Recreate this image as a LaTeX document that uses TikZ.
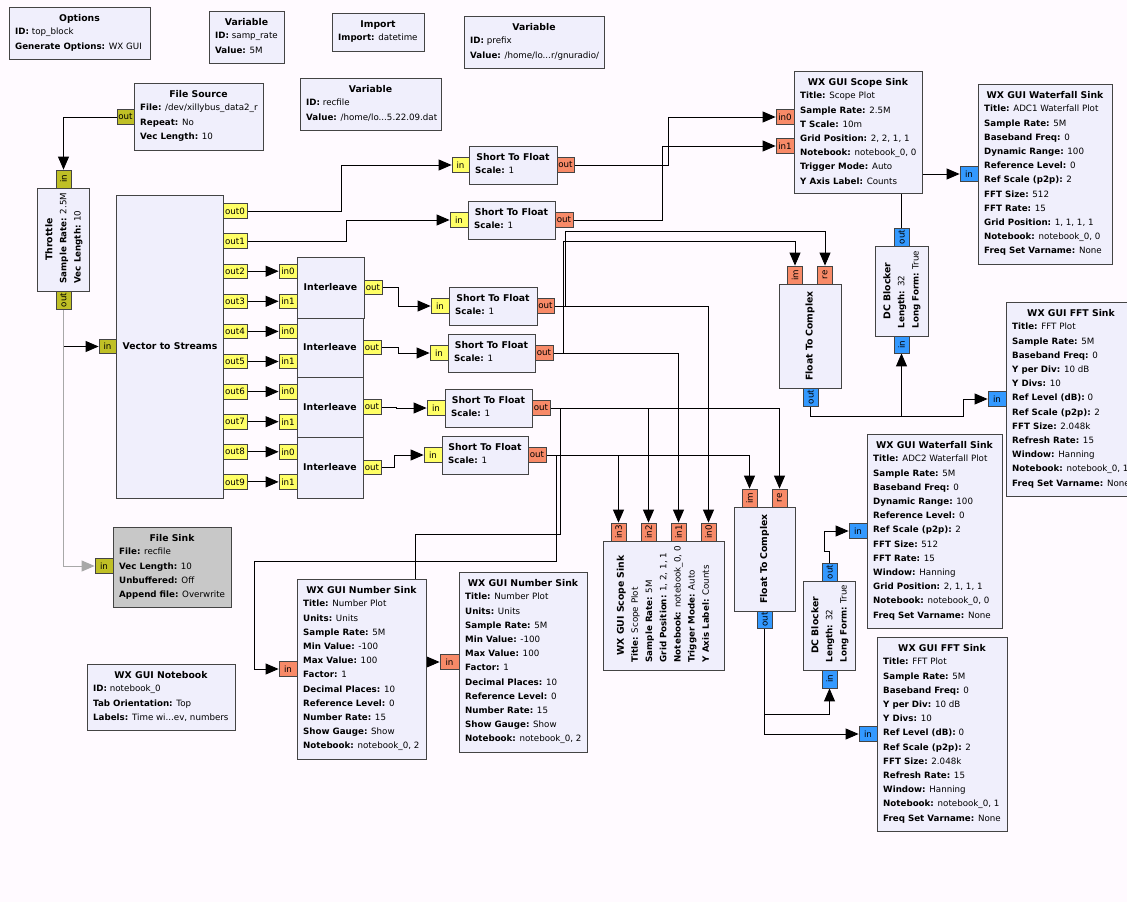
\documentclass[tikz,border=0pt]{standalone}
\usepackage{fontspec}
\setmainfont{DejaVu Sans}
\usepackage{graphicx}
\usetikzlibrary{arrows.meta}
\pgfdeclarelayer{bg}
\pgfdeclarelayer{conns}
\pgfsetlayers{bg,conns,main}
\definecolor{bgc}{HTML}{FFFAFF}
\definecolor{blkfill}{HTML}{F0EFFC}
\definecolor{bord}{HTML}{444444}
\definecolor{sinkgray}{HTML}{C8C8C8}
\definecolor{pyel}{HTML}{FFFF66}
\definecolor{psal}{HTML}{F88A68}
\definecolor{pblu}{HTML}{3399FF}
\definecolor{poli}{HTML}{BFBF26}
\definecolor{gline}{HTML}{A8A8A8}
\tikzset{
  blk/.style={draw=bord, fill=blkfill, line width=1.1pt, inner sep=0pt, anchor=north west},
  ttl/.style={font=\fontsize{9.3}{11}\selectfont\bfseries, inner sep=0pt},
  prm/.style={font=\fontsize{8.7}{10}\selectfont, inner sep=0pt},
  hp/.style={draw=bord, line width=0.8pt, inner sep=0pt, minimum height=14.6pt, font=\fontsize{8.7}{10}\selectfont},
  vp/.style={draw=bord, line width=0.8pt, inner sep=0pt, minimum width=15pt, font=\fontsize{8.7}{10}\selectfont},
  conn/.style={draw=black, line width=0.9pt, -{Triangle[length=13pt,width=11pt]}},
  gconn/.style={draw=gline, line width=0.9pt, -{Triangle[length=13pt,width=11pt]}},
}
\newcommand\kk[1]{\textbf{#1}}
\newcommand\ddd{.\kern0pt.\kern0pt.}
% horizontal block: [fill]{name}{x1}{y1}{x2}{y2}{title}{params}
\newcommand\hblk[8][blkfill]{%
  \node[blk, fill=#1, minimum width={#5-#3}, minimum height={#6-#4}] (#2) at (#3,#4) {};
  \node[ttl, anchor=base] (#2-t) at ({(#3+#5)/2},{#4+14.1}) {#7};
  \foreach \plx [count=\pn from 0] in {#8} {\node[prm, anchor=base west] (#2-p\pn) at ({#3+6},{#4+27.9+14.2*\pn}) {\plx};}%
}
% rotated block: [fill]{name}{x1}{y1}{x2}{y2}{title x}{title}{params}
\newcommand\rblk[9][blkfill]{%
  \node[blk, fill=#1, minimum width={#5-#3}, minimum height={#6-#4}] (#2) at (#3,#4) {};
  \node[ttl, rotate=90, anchor=base] (#2-t) at ({#7+3.4},{(#4+#6)/2}) {#8};
  \foreach \plx [count=\pn from 1] in {#9} {\node[prm, rotate=90, anchor=base west] (#2-p\pn) at ({#7+3.2+14.2*\pn},{#6-7.5}) {\plx};}%
}
% horizontal port: {name}{colour}{x1}{x2}{yc}{label}
\newcommand\hport[6]{\node[hp, fill=#2, minimum width={#4-#3}] (#1) at ({(#3+#4)/2},{#5}) {#6};}
% vertical port: {name}{colour}{xc}{y1}{y2}{label}
\newcommand\vport[6]{\node[vp, fill=#2, minimum height={#5-#4}] (#1) at ({#3},{(#4+#5)/2}) {\rotatebox{90}{#6}};}
\begin{document}
\begin{tikzpicture}[x=1pt,y=-1pt]
\useasboundingbox (0,0) rectangle (1127,902);
\begin{pgfonlayer}{bg}
\fill[bgc] (0,0) rectangle (1127,902);
\end{pgfonlayer}

% ---------- top row ----------
\hblk{opt}{9}{7}{150}{59}{Options}{{\kk{ID:} top\_block},{\kk{Generate Options:} WX GUI}}
\hblk{vsr}{209}{11}{284}{63}{Variable}{{\kk{ID:} samp\_rate},{\kk{Value:} 5M}}
\hblk{imp}{332}{13}{424}{51}{Import}{{\kk{Import:} datetime}}
\hblk{vpf}{464}{16}{604}{68}{Variable}{{\kk{ID:} prefix},{\kk{Value:} /home/lo\ddd r/gnuradio/}}
\hblk{fsrc}{134}{83}{263}{150}{File Source}{{\kk{File:} /dev/xillybus\_data2\_r},{\kk{Repeat:} No},{\kk{Vec Length:} 10}}
\hblk{vrf}{300}{78}{441}{130}{Variable}{{\kk{ID:} recfile},{\kk{Value:} /home/lo\ddd 5.22.09.dat}}

% ---------- left chain ----------
\rblk{thr}{37}{188}{89}{291}{49}{Throttle}{{\kk{Sample Rate:} 2.5M},{\kk{Vec Length:} 10}}
\node[blk, minimum width=107, minimum height=303] (vts) at (116,195) {};
\node[ttl] (vts-t) at (170,346.5) {Vector to Streams};
\node[blk, minimum width=67, minimum height=61] (il1) at (297,257) {};
\node[ttl] (il1-t) at (330.5,287.5) {Interleave};
\node[blk, minimum width=66, minimum height=59] (il2) at (297,318) {};
\node[ttl] (il2-t) at (330,347.5) {Interleave};
\node[blk, minimum width=66, minimum height=60] (il3) at (297,377) {};
\node[ttl] (il3-t) at (330,407) {Interleave};
\node[blk, minimum width=66, minimum height=61] (il4) at (297,437) {};
\node[ttl] (il4-t) at (330,467.5) {Interleave};

\hblk{stf1}{469}{146}{557}{184}{Short To Float}{{\kk{Scale:} 1}}
\hblk{stf2}{468}{201}{555}{239}{Short To Float}{{\kk{Scale:} 1}}
\hblk{stf3}{449}{287}{537}{325}{Short To Float}{{\kk{Scale:} 1}}
\hblk{stf4}{448}{334}{535}{372}{Short To Float}{{\kk{Scale:} 1}}
\hblk{stf5}{445}{389}{532}{427}{Short To Float}{{\kk{Scale:} 1}}
\hblk{stf6}{442}{436}{528}{474}{Short To Float}{{\kk{Scale:} 1}}

% ---------- right side ----------
\hblk{sc1}{794}{71}{922}{193}{WX GUI Scope Sink}{{\kk{Title:} Scope Plot},{\kk{Sample Rate:} 2.5M},{\kk{T Scale:} 10m},{\kk{Grid Position:} 2, 2, 1, 1},{\kk{Notebook:} notebook\_0, 0},{\kk{Trigger Mode:} Auto},{\kk{Y Axis Label:} Counts}}
\hblk{wf1}{978}{84}{1112}{264}{WX GUI Waterfall Sink}{{\kk{Title:} ADC1 Waterfall Plot},{\kk{Sample Rate:} 5M},{\kk{Baseband Freq:} 0},{\kk{Dynamic Range:} 100},{\kk{Reference Level:} 0},{\kk{Ref Scale (p2p):} 2},{\kk{FFT Size:} 512},{\kk{FFT Rate:} 15},{\kk{Grid Position:} 1, 1, 1, 1},{\kk{Notebook:} notebook\_0, 0},{\kk{Freq Set Varname:} None}}
\rblk{dc1}{875}{246}{928}{336}{887}{DC Blocker}{{\kk{Length:} 32},{\kk{Long Form:} True}}
\node[blk, minimum width=62, minimum height=104] (ftc1) at (779,284) {};
\node[ttl, rotate=90] (ftc1-t) at (810,336) {Float To Complex};
\hblk{fft1}{1006}{302}{1136}{496}{WX GUI FFT Sink}{{\kk{Title:} FFT Plot},{\kk{Sample Rate:} 5M},{\kk{Baseband Freq:} 0},{\kk{Y per Div:} 10 dB},{\kk{Y Divs:} 10},{\kk{Ref Level (dB):} 0},{\kk{Ref Scale (p2p):} 2},{\kk{FFT Size:} 2.048k},{\kk{Refresh Rate:} 15},{\kk{Window:} Hanning},{\kk{Notebook:} notebook\_0, 1},{\kk{Freq Set Varname:} None}}
\hblk{wf2}{867}{434}{1002}{628}{WX GUI Waterfall Sink}{{\kk{Title:} ADC2 Waterfall Plot},{\kk{Sample Rate:} 5M},{\kk{Baseband Freq:} 0},{\kk{Dynamic Range:} 100},{\kk{Reference Level:} 0},{\kk{Ref Scale (p2p):} 2},{\kk{FFT Size:} 512},{\kk{FFT Rate:} 15},{\kk{Window:} Hanning},{\kk{Grid Position:} 2, 1, 1, 1},{\kk{Notebook:} notebook\_0, 0},{\kk{Freq Set Varname:} None}}
\node[blk, minimum width=61, minimum height=104] (ftc2) at (734,507) {};
\node[ttl, rotate=90] (ftc2-t) at (764.5,559) {Float To Complex};
\rblk{dc2}{803}{581}{855}{670}{815}{DC Blocker}{{\kk{Length:} 32},{\kk{Long Form:} True}}
\hblk{fft2}{877}{637}{1007}{831}{WX GUI FFT Sink}{{\kk{Title:} FFT Plot},{\kk{Sample Rate:} 5M},{\kk{Baseband Freq:} 0},{\kk{Y per Div:} 10 dB},{\kk{Y Divs:} 10},{\kk{Ref Level (dB):} 0},{\kk{Ref Scale (p2p):} 2},{\kk{FFT Size:} 2.048k},{\kk{Refresh Rate:} 15},{\kk{Window:} Hanning},{\kk{Notebook:} notebook\_0, 1},{\kk{Freq Set Varname:} None}}
\rblk{sc2}{603}{541}{724}{670}{620.5}{WX GUI Scope Sink}{{\kk{Title:} Scope Plot},{\kk{Sample Rate:} 5M},{\kk{Grid Position:} 1, 2, 1, 1},{\kk{Notebook:} notebook\_0, 0},{\kk{Trigger Mode:} Auto},{\kk{Y Axis Label:} Counts}}

% ---------- bottom left ----------
\hblk[sinkgray]{fsk}{113}{527}{231}{607}{File Sink}{{\kk{File:} recfile},{\kk{Vec Length:} 10},{\kk{Unbuffered:} Off},{\kk{Append file:} Overwrite}}
\hblk{nbk}{87}{664}{235}{730}{WX GUI Notebook}{{\kk{ID:} notebook\_0},{\kk{Tab Orientation:} Top},{\kk{Labels:} Time wi\ddd ev, numbers}}
\hblk{ns1}{297}{579}{426}{759}{WX GUI Number Sink}{{\kk{Title:} Number Plot},{\kk{Units:} Units},{\kk{Sample Rate:} 5M},{\kk{Min Value:} -100},{\kk{Max Value:} 100},{\kk{Factor:} 1},{\kk{Decimal Places:} 10},{\kk{Reference Level:} 0},{\kk{Number Rate:} 15},{\kk{Show Gauge:} Show},{\kk{Notebook:} notebook\_0, 2}}
\hblk{ns2}{459}{572}{587}{752}{WX GUI Number Sink}{{\kk{Title:} Number Plot},{\kk{Units:} Units},{\kk{Sample Rate:} 5M},{\kk{Min Value:} -100},{\kk{Max Value:} 100},{\kk{Factor:} 1},{\kk{Decimal Places:} 10},{\kk{Reference Level:} 0},{\kk{Number Rate:} 15},{\kk{Show Gauge:} Show},{\kk{Notebook:} notebook\_0, 2}}

% ---------- ports ----------
\hport{fs-out}{poli}{117}{134}{117}{out}
\vport{thr-in}{poli}{63.5}{170}{188}{in}
\vport{thr-out}{poli}{63.5}{291}{309}{out}
\hport{vts-in}{poli}{99}{116}{346.5}{in}
\foreach \i in {0,1,2,3,4,5,6,7,8,9} {\hport{vts-o\i}{pyel}{223}{247}{211+30.1*\i}{out\i}}
\foreach \k in {1,2,3,4} {
  \hport{il\k-i0}{pyel}{279}{297}{211+30.1*(2*\k)}{in0}
  \hport{il\k-i1}{pyel}{279}{297}{211+30.1*(2*\k+1)}{in1}
}
\hport{il1-out}{pyel}{364}{382}{287.5}{out}
\hport{il2-out}{pyel}{363}{381}{347.5}{out}
\hport{il3-out}{pyel}{363}{381}{407}{out}
\hport{il4-out}{pyel}{363}{381}{467.5}{out}
\hport{stf1-in}{pyel}{452}{469}{165}{in}
\hport{stf1-out}{psal}{557}{574}{165}{out}
\hport{stf2-in}{pyel}{450}{468}{220}{in}
\hport{stf2-out}{psal}{555}{573}{220}{out}
\hport{stf3-in}{pyel}{431}{449}{306}{in}
\hport{stf3-out}{psal}{537}{554}{306}{out}
\hport{stf4-in}{pyel}{430}{448}{353}{in}
\hport{stf4-out}{psal}{535}{553}{353}{out}
\hport{stf5-in}{pyel}{427}{445}{408}{in}
\hport{stf5-out}{psal}{532}{550}{408}{out}
\hport{stf6-in}{pyel}{424}{442}{455}{in}
\hport{stf6-out}{psal}{528}{546}{455}{out}
\hport{sc1-i0}{psal}{776}{794}{117}{in0}
\hport{sc1-i1}{psal}{776}{794}{146}{in1}
\hport{wf1-in}{pblu}{960}{978}{174}{in}
\vport{dc1-out}{pblu}{901.5}{228}{246}{out}
\vport{dc1-in}{pblu}{901.5}{336}{353}{in}
\vport{ftc1-im}{psal}{795}{266}{284}{im}
\vport{ftc1-re}{psal}{825}{266}{284}{re}
\vport{ftc1-out}{pblu}{810.5}{388}{406}{out}
\hport{fft1-in}{pblu}{988}{1006}{399}{in}
\vport{ftc2-im}{psal}{749.5}{489}{507}{im}
\vport{ftc2-re}{psal}{779.5}{489}{507}{re}
\vport{ftc2-out}{pblu}{764.5}{611}{628}{out}
\vport{dc2-out}{pblu}{829.5}{563}{581}{out}
\vport{dc2-in}{pblu}{829.5}{670}{688}{in}
\hport{wf2-in}{pblu}{849}{867}{531}{in}
\hport{fft2-in}{pblu}{859}{877}{734}{in}
\vport{sc2-i3}{psal}{618.5}{523}{541}{in3}
\vport{sc2-i2}{psal}{648.5}{523}{541}{in2}
\vport{sc2-i1}{psal}{678.5}{523}{541}{in1}
\vport{sc2-i0}{psal}{708.5}{523}{541}{in0}
\hport{fsk-in}{poli}{95}{113}{566}{in}
\hport{ns1-in}{psal}{279}{297}{669}{in}
\hport{ns2-in}{psal}{440}{459}{662}{in}

% ---------- connections ----------
\begin{pgfonlayer}{conns}
\draw[conn] (fs-out.west) -| (thr-in.north);
\draw[conn] (thr-out.south) |- (vts-in.west);
\draw[gconn] (thr-out.south) |- (fsk-in.west);
\draw[conn] (vts-o0.east) -- ++(94,0) |- (stf1-in.west);
\draw[conn] (vts-o1.east) -- ++(99,0) |- (stf2-in.west);
\draw[conn] (vts-o2.east) -- (il1-i0.west);
\draw[conn] (vts-o3.east) -- (il1-i1.west);
\draw[conn] (vts-o4.east) -- (il2-i0.west);
\draw[conn] (vts-o5.east) -- (il2-i1.west);
\draw[conn] (vts-o6.east) -- (il3-i0.west);
\draw[conn] (vts-o7.east) -- (il3-i1.west);
\draw[conn] (vts-o8.east) -- (il4-i0.west);
\draw[conn] (vts-o9.east) -- (il4-i1.west);
\draw[conn] (il1-out.east) -- ++(16,0) |- (stf3-in.west);
\draw[conn] (il2-out.east) -- ++(17,0) |- (stf4-in.west);
\draw[conn] (il3-out.east) -- ++(15,0) |- (stf5-in.west);
\draw[conn] (il4-out.east) -- ++(13,0) |- (stf6-in.west);
\draw[conn] (stf1-out.east) -- ++(94,0) |- (sc1-i0.west);
\draw[conn] (stf2-out.east) -- ++(89,0) |- (sc1-i1.west);
\draw[conn] (stf3-out.east) -| (sc2-i0.north);
\draw[conn] (stf3-out.east) -- ++(11,0) -- ++(0,-75) -| (ftc1-re.north);
\draw[conn] (stf4-out.east) -| (sc2-i1.north);
\draw[conn] (stf4-out.east) -- ++(10,0) -- ++(0,-112) -| (ftc1-im.north);
\draw[conn] (stf5-out.east) -| (sc2-i2.north);
\draw[conn] (stf5-out.east) -| (ftc2-re.north);
\draw[conn] (stf5-out.east) -- ++(10,0) -- ++(0,126) -- ++(-145,0) |- (ns2-in.west);
\draw[conn] (stf6-out.east) -| (sc2-i3.north);
\draw[conn] (stf6-out.east) -| (ftc2-im.north);
\draw[conn] (stf6-out.east) -- ++(10,0) -- ++(0,106) -- ++(-302,0) |- (ns1-in.west);
\draw[conn] (ftc1-out.south) -- ++(0,10) -| (dc1-in.south);
\draw[conn] (ftc1-out.south) -- ++(0,10) -- ++(153,0) |- (fft1-in.west);
\draw[conn] (dc1-out.north) |- (wf1-in.west);
\draw[conn] (ftc2-out.south) -- ++(0,86) -| (dc2-in.south);
\draw[conn] (ftc2-out.south) |- (fft2-in.west);
\draw[conn] (dc2-out.north) -- ++(0,-11) -- ++(-5,0) |- (wf2-in.west);
\end{pgfonlayer}
\end{tikzpicture}
\end{document}
